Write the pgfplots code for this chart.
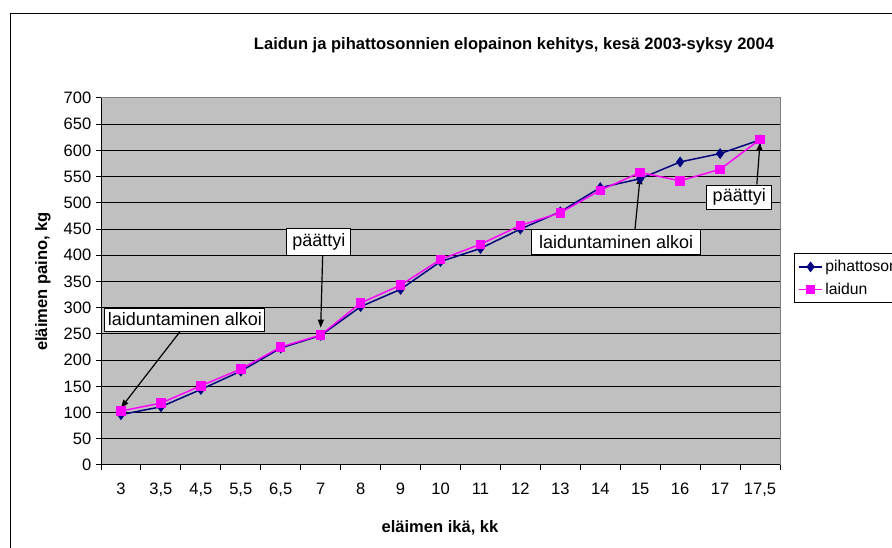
\documentclass[border=0pt]{standalone}
\usepackage{pgfplots}
\pgfplotsset{compat=1.18}
\usepackage{fontspec}
\setmainfont{Liberation Sans}
\usetikzlibrary{arrows.meta}
\definecolor{plotgray}{RGB}{192,192,192}
\definecolor{bordergray}{RGB}{128,128,128}
\definecolor{navyblue}{RGB}{0,0,128}
\definecolor{magentac}{RGB}{255,0,255}
\pgfplotstableread{
idx pihatto laidun
0  96 103
1  111 118
2  144 151
3  179 183
4  223 225
5  247 248
6  302 309
7  335 343
8  388 392
9  413 421
10 450 457
11 483 481
12 529 524
13 546 558
14 578 542
15 594 564
16 620 621
}\datatable
\begin{document}
\begin{tikzpicture}[x=0.75pt,y=0.75pt]
\path[use as bounding box, clip] (0,0) rectangle (892,548);
\fill[white] (0,0) rectangle (892,548);
\draw[line width=0.75pt] (10,-20) -- (10,534) -- (950,534);
\node[font=\fontsize{12.4}{14}\selectfont\bfseries] at (514,503) {Laidun ja pihattosonnien elopainon kehitys, kesä 2003-syksy 2004};
\node[font=\fontsize{12.4}{14}\selectfont\bfseries] at (440,20) {eläimen ikä, kk};
\node[font=\fontsize{12.4}{14}\selectfont\bfseries, rotate=90] at (43,266.5) {eläimen paino, kg};
\begin{axis}[
  at={(75.75pt,62.25pt)}, anchor=south west,
  width=509.25pt, height=275.25pt, scale only axis,
  xmin=-0.5, xmax=16.5, ymin=0, ymax=700,
  axis lines*=left,
  axis line style={black, line width=0.75pt},
  axis background/.style={fill=plotgray},
  clip=false,
  ytick={0,50,...,700},
  xtick={0,...,16},
  xticklabels={3,{3,5},{4,5},{5,5},{6,5},7,8,9,10,11,12,13,14,15,16,17,{17,5}},
  minor xtick={-0.5,0.5,...,16.5},
  major x tick style={draw=none},
  tick align=outside,
  major tick length=3.75pt, minor tick length=3.75pt,
  tick style={black, line width=0.75pt},
  ymajorgrids, grid style={black, line width=0.75pt},
  ticklabel style={font=\fontsize{12.4}{14}\selectfont},
  /pgf/number format/assume math mode=true,
  xticklabel style={yshift=-6pt},
  legend style={at={(1.0206,0.5777)}, anchor=north west, draw=black, fill=white,
    font=\fontsize{11.8}{13}\selectfont, row sep=3pt, inner sep=3pt, line width=0.75pt},
  legend cell align=left,
]
\draw[bordergray, line width=0.75pt] (rel axis cs:0,1) -- (rel axis cs:1,1) -- (rel axis cs:1,0);
\addplot[navyblue, line width=1.1pt, mark=diamond*, mark size=3.2pt, mark options={fill=navyblue, draw=navyblue}]
  table[x=idx, y=pihatto] {\datatable};
\addlegendentry{pihattosonnit}
\addplot[magentac, line width=1.1pt, mark=square*, mark size=3pt, mark options={fill=magentac, draw=magentac}]
  table[x=idx, y=laidun] {\datatable};
\addlegendentry{laidun}
\draw[-{Triangle[length=6pt,width=4.5pt]}, line width=0.9pt] (axis cs:1.495,256) -- (axis cs:0.0,109);
\draw[-{Triangle[length=6pt,width=4.5pt]}, line width=0.9pt] (axis cs:5.05,399) -- (axis cs:5.0,262);
\draw[-{Triangle[length=6pt,width=4.5pt]}, line width=0.9pt] (axis cs:12.87,450) -- (axis cs:13.0,551);
\draw[-{Triangle[length=6pt,width=4.5pt]}, line width=0.9pt] (axis cs:15.92,535) -- (axis cs:16.0,615);
\node[draw=black, fill=white, line width=0.75pt, inner sep=0pt, minimum width=120pt, minimum height=17.25pt, font=\fontsize{13.5}{15}\selectfont] at (axis cs:1.603,277.5) {laiduntaminen alkoi};
\node[draw=black, fill=white, line width=0.75pt, inner sep=0pt, minimum width=48pt, minimum height=20pt, font=\fontsize{13.5}{15}\selectfont] at (axis cs:4.953,424.8) {päättyi};
\node[draw=black, fill=white, line width=0.75pt, inner sep=0pt, minimum width=126.75pt, minimum height=19.3pt, font=\fontsize{13.5}{15}\selectfont] at (axis cs:12.40,425.1) {laiduntaminen alkoi};
\node[draw=black, fill=white, line width=0.75pt, inner sep=0pt, minimum width=48.75pt, minimum height=18.2pt, font=\fontsize{13.5}{15}\selectfont] at (axis cs:15.48,510.8) {päättyi};
\end{axis}
\end{tikzpicture}
\end{document}
